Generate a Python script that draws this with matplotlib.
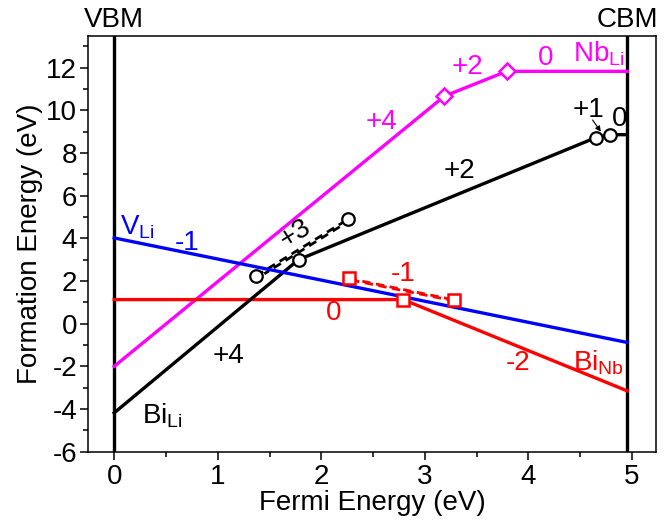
import matplotlib
matplotlib.use("Agg")
import matplotlib.pyplot as plt
from matplotlib.ticker import MultipleLocator
import matplotlib.transforms as mtransforms

plt.rcParams["font.family"] = ["Liberation Sans", "DejaVu Sans"]
plt.rcParams["mathtext.fontset"] = "custom"
plt.rcParams["mathtext.rm"] = "Liberation Sans"
plt.rcParams["mathtext.it"] = "Liberation Sans"
plt.rcParams["axes.unicode_minus"] = False

# band edges (eV)
vbm = 0.0
cbm = 4.955

# Nb_Li: +4 -> +2 -> 0
nb_li_x = [0.0, 3.19, 3.79, 4.955]
nb_li_y = [-2.0, 10.67, 11.83, 11.83]

# Bi_Li: +4 -> +2 -> +1 -> 0
bi_li_x = [0.0, 1.78, 4.65, 4.79, 4.955]
bi_li_y = [-4.18, 3.0, 8.72, 8.86, 8.86]
# Bi_Li metastable +3
bi_li_meta_x = [1.37, 2.26]
bi_li_meta_y = [2.24, 4.9]

# Bi_Nb: 0 -> -2
bi_nb_x = [0.0, 2.79, 4.955]
bi_nb_y = [1.13, 1.13, -3.15]
# Bi_Nb metastable -1
bi_nb_meta_x = [2.265, 3.28]
bi_nb_meta_y = [2.12, 1.12]

# V_Li: -1
v_li_x = [0.0, 4.955]
v_li_y = [4.02, -0.88]

MAG = "#ff00ff"
RED = "#ff0000"
BLUE = "#0000ff"
FS = 20
LW = 2.4

fig = plt.figure(figsize=(6.7, 5.22), dpi=100)
ax = fig.add_axes([0.1318, 0.1347, 0.9787 - 0.1318, 0.9316 - 0.1347])

ax.plot(nb_li_x, nb_li_y, color=MAG, lw=LW, zorder=3)
ax.plot(nb_li_x[1:3], nb_li_y[1:3], ls="none", marker="D", ms=8, mfc="white",
        mec=MAG, mew=1.8, zorder=6)

ax.plot(bi_nb_x, bi_nb_y, color=RED, lw=LW, zorder=3)
ax.plot(bi_nb_meta_x, bi_nb_meta_y, color=RED, lw=2.0, ls=(0, (3, 2)), zorder=3)
ax.plot([bi_nb_meta_x[0] + 0.05, bi_nb_meta_x[1] - 0.05],
        [bi_nb_meta_y[0] - 0.1, bi_nb_meta_y[1] + 0.0], color=RED, lw=2.0,
        ls=(1, (3, 2)), zorder=3)
ax.plot([bi_nb_x[1]] + bi_nb_meta_x, [bi_nb_y[1]] + bi_nb_meta_y, ls="none",
        marker="s", ms=8.5, mfc="white", mec=RED, mew=1.8, zorder=6)

ax.plot(bi_li_x, bi_li_y, color="black", lw=LW, zorder=4)
ax.plot(bi_li_meta_x, bi_li_meta_y, color="black", lw=2.0, ls=(0, (3, 2)), zorder=4)
ax.plot([bi_li_meta_x[0] + 0.08, bi_li_meta_x[1] - 0.08],
        [bi_li_meta_y[0] + 0.1, bi_li_meta_y[1] - 0.35], color="black", lw=2.0,
        ls=(1, (3, 2)), zorder=4)
ax.plot(bi_li_x[1:4] + bi_li_meta_x, bi_li_y[1:4] + bi_li_meta_y, ls="none",
        marker="o", ms=9, mfc="white", mec="black", mew=1.6, zorder=6)

ax.plot(v_li_x, v_li_y, color=BLUE, lw=LW, zorder=5)

# band edges
ax.axvline(vbm, color="black", lw=2.4, zorder=2)
ax.axvline(cbm, color="black", lw=2.4, zorder=2)
trans = mtransforms.blended_transform_factory(ax.transData, ax.transAxes)
ax.text(vbm, 1.006, "VBM", transform=trans, ha="center", va="bottom", fontsize=FS)
ax.text(cbm, 1.006, "CBM", transform=trans, ha="center", va="bottom", fontsize=FS)

# charge-state labels
ax.text(2.58, 9.45, "+4", color=MAG, fontsize=FS, ha="center", va="center")
ax.text(3.41, 12.05, "+2", color=MAG, fontsize=FS, ha="center", va="center")
ax.text(4.17, 12.45, "0", color=MAG, fontsize=FS, ha="center", va="center")
ax.text(4.93, 12.65, r"Nb$_{\rm Li}$", color=MAG, fontsize=FS, ha="right", va="center")

ax.text(3.33, 7.15, "+2", color="black", fontsize=FS, ha="center", va="center")
ax.text(4.58, 10.0, "+1", color="black", fontsize=FS, ha="center", va="center")
ax.text(4.88, 9.6, "0", color="black", fontsize=FS, ha="center", va="center")
ax.annotate("", xy=(4.70, 9.0), xytext=(4.62, 9.55),
            arrowprops=dict(arrowstyle="-|>", color="black", lw=0.8,
                            mutation_scale=8, shrinkA=0, shrinkB=0))
ax.text(1.75, 4.2, "+3", color="black", fontsize=FS, ha="center", va="center",
        rotation=32)
ax.text(1.1, -1.5, "+4", color="black", fontsize=FS, ha="center", va="center")
ax.text(0.27, -4.3, r"Bi$_{\rm Li}$", color="black", fontsize=FS, ha="left", va="center")

ax.text(0.06, 4.5, r"V$_{\rm Li}$", color=BLUE, fontsize=FS, ha="left", va="center")
ax.text(0.70, 3.8, "-1", color=BLUE, fontsize=FS, ha="center", va="center")

ax.text(2.12, 0.5, "0", color=RED, fontsize=FS, ha="center", va="center")
ax.text(2.79, 2.35, "-1", color=RED, fontsize=FS, ha="center", va="center")
ax.text(3.9, -1.85, "-2", color=RED, fontsize=FS, ha="center", va="center")
ax.text(4.92, -1.85, r"Bi$_{\rm Nb}$", color=RED, fontsize=FS, ha="right", va="center")

ax.set_xlim(-0.25, 5.23)
ax.set_ylim(-6, 13.5)
ax.xaxis.set_major_locator(MultipleLocator(1))
ax.xaxis.set_minor_locator(MultipleLocator(0.5))
ax.yaxis.set_major_locator(MultipleLocator(2))
ax.yaxis.set_minor_locator(MultipleLocator(1))
ax.tick_params(which="both", direction="out", labelsize=FS, width=1.1)
ax.tick_params(which="major", length=6)
ax.tick_params(which="minor", length=3.5)
ax.tick_params(axis="y", pad=2)
ax.tick_params(axis="x", pad=3)
for sp in ax.spines.values():
    sp.set_linewidth(1.1)

ax.set_xlabel("Fermi Energy (eV)", fontsize=FS, labelpad=0)
ax.set_ylabel("Formation Energy (eV)", fontsize=FS, labelpad=2)

fig.savefig("out.png", dpi=100)
